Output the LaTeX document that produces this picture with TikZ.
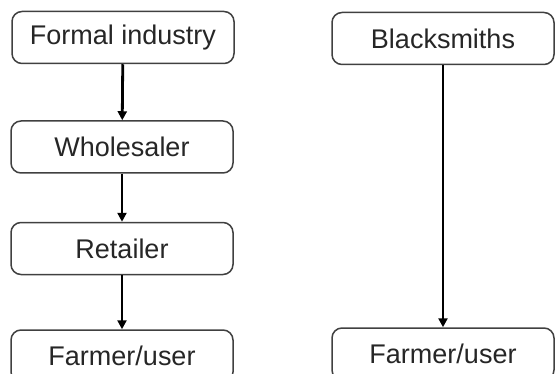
\documentclass[tikz,border=0pt]{standalone}
\usepackage{xcolor}
\usepackage{fontspec}
\setmainfont{Liberation Sans}
\usetikzlibrary{arrows.meta}

\begin{document}
\begin{tikzpicture}[x=1pt, y=1pt,
    stage/.style={draw=black!75, line width=1.5pt, rounded corners=10pt,
        minimum width=222pt, minimum height=52pt, inner sep=0pt,
        text=black!85, font=\fontsize{27}{30}\selectfont},
    flow/.style={line width=2.8pt, -{Triangle[length=9pt, width=9pt]}}]
    \useasboundingbox (0,0) rectangle (555,373);
    \clip (0,0) rectangle (555,373);

    \node (formal) at (123, 335.5) [stage] {Formal industry};
    \node (wholesaler) at (122, 226) [stage] {Wholesaler};
    \node (retailer) at (122, 124.5) [stage] {Retailer};
    \node (farmerA) at (122, 17) [stage] {Farmer/user};

    \node (smiths) at (443, 334.5) [stage] {Blacksmiths};
    \node (farmerB) at (443, 19) [stage] {Farmer/user};

    \draw[flow] (formal) -- (wholesaler);
    \draw[flow] (wholesaler) -- (retailer);
    \draw[flow] (retailer) -- (farmerA);
    \draw[flow] (smiths) -- (farmerB);
\end{tikzpicture}
\end{document}
